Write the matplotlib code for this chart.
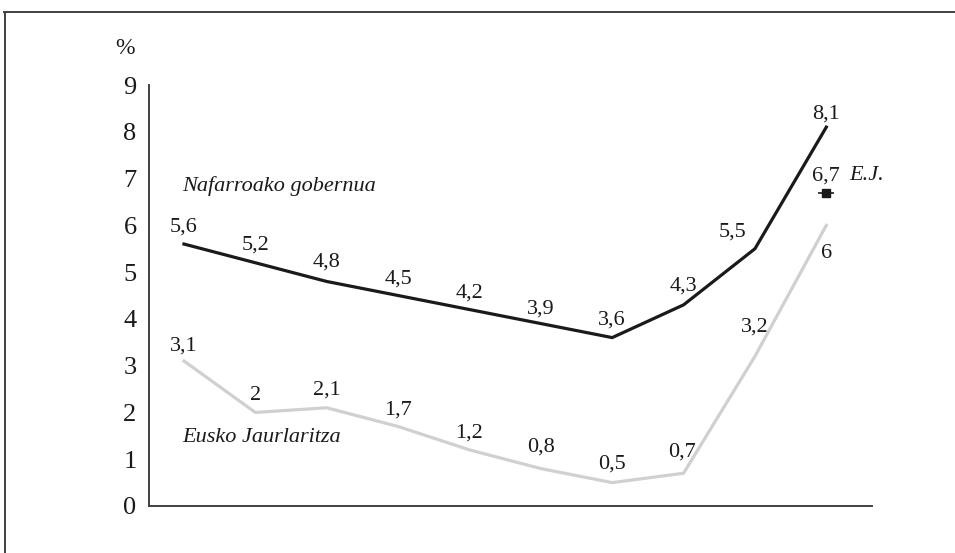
import matplotlib
matplotlib.use("Agg")
import matplotlib.pyplot as plt
from matplotlib.lines import Line2D

plt.rcParams['font.family'] = ['Liberation Serif', 'DejaVu Serif']

# Data
categories = list(range(10))
nafarroa = [5.6, 5.2, 4.8, 4.5, 4.2, 3.9, 3.6, 4.3, 5.5, 8.1]
eusko = [3.1, 2.0, 2.1, 1.7, 1.2, 0.8, 0.5, 0.7, 3.2, 6.0]
ej_index = 9
ej_value = 6.7
yticks = [0, 1, 2, 3, 4, 5, 6, 7, 8, 9]

def fmt(v):
    s = ('%g' % v)
    return s.replace('.', ',')

# label offsets (pixels: dx, dy) -- style only
naf_off = [(0, 17), (0, 18), (0, 19), (0, 16), (0, 16), (0, 15), (0, 18), (0, 19), (-22, 17), (0, 13)]
eus_off = [(0, 15), (0, 17), (0, 18), (0, 16), (0, 17), (0, 22), (0, 19), (-2, 21), (0, 29), (0, -28)]

fig = plt.figure(figsize=(9.55, 5.53), dpi=100)
ax = fig.add_axes([149/955, 47/553, 723/955, 421/553])

ax.plot(categories, eusko, color='#d0d0d0', lw=2.3, solid_joinstyle='miter', zorder=2)
ax.plot(categories, nafarroa, color='#1a1a1a', lw=2.3, solid_joinstyle='miter', zorder=3)

# E.J. marker
ax.plot([ej_index], [ej_value], marker='_', ms=11, mew=1.2, color='#1a1a1a', zorder=4)
ax.plot([ej_index], [ej_value], marker='s', ms=5.5, color='#1a1a1a', zorder=5)

px = 72 / 100.0
for i, v in enumerate(nafarroa):
    dx, dy = naf_off[i]
    ax.annotate(fmt(v), (categories[i], v), xytext=(dx * px, dy * px), textcoords='offset points',
                ha='center', va='center', fontsize=16, color='#1a1a1a')
for i, v in enumerate(eusko):
    dx, dy = eus_off[i]
    ax.annotate(fmt(v), (categories[i], v), xytext=(dx * px, dy * px), textcoords='offset points',
                ha='center', va='center', fontsize=16, color='#1a1a1a')
ax.annotate(fmt(ej_value), (ej_index, ej_value), xytext=(0, 17 * px), textcoords='offset points',
            ha='center', va='center', fontsize=16, color='#1a1a1a')
ax.annotate('E.J.', (ej_index, ej_value), xytext=(40 * px, 17 * px), textcoords='offset points',
            ha='center', va='center', fontsize=16, style='italic', color='#1a1a1a')

# series names
ax.text(-0.03, 6.85, 'Nafarroako gobernua', fontsize=16, style='italic', ha='left', va='center', color='#1a1a1a')
ax.text(-0.03, 1.47, 'Eusko Jaurlaritza', fontsize=16, style='italic', ha='left', va='center', color='#1a1a1a')

ax.set_xlim(-0.49, 9.64)
ax.set_ylim(0, 9)
ax.set_yticks(yticks)
ax.set_yticklabels([str(t) for t in yticks], fontsize=19, color='#1a1a1a')
ax.set_xticks([])
ax.tick_params(axis='y', length=0, pad=9)
for s in ['top', 'right']:
    ax.spines[s].set_visible(False)
for s in ['left', 'bottom']:
    ax.spines[s].set_color('#404040')
    ax.spines[s].set_linewidth(1.4)

fig.text(125/955, 1 - 48/553, '%', fontsize=17, ha='center', va='center', color='#1a1a1a')

# outer frame (clipped rectangle)
fig.add_artist(Line2D([4/955, 1.0], [1 - 11.5/553, 1 - 11.5/553], color='#404040', lw=1.4))
fig.add_artist(Line2D([4.5/955, 4.5/955], [0.0, 1 - 11.5/553], color='#404040', lw=1.4))

fig.savefig('out.png', dpi=100)
